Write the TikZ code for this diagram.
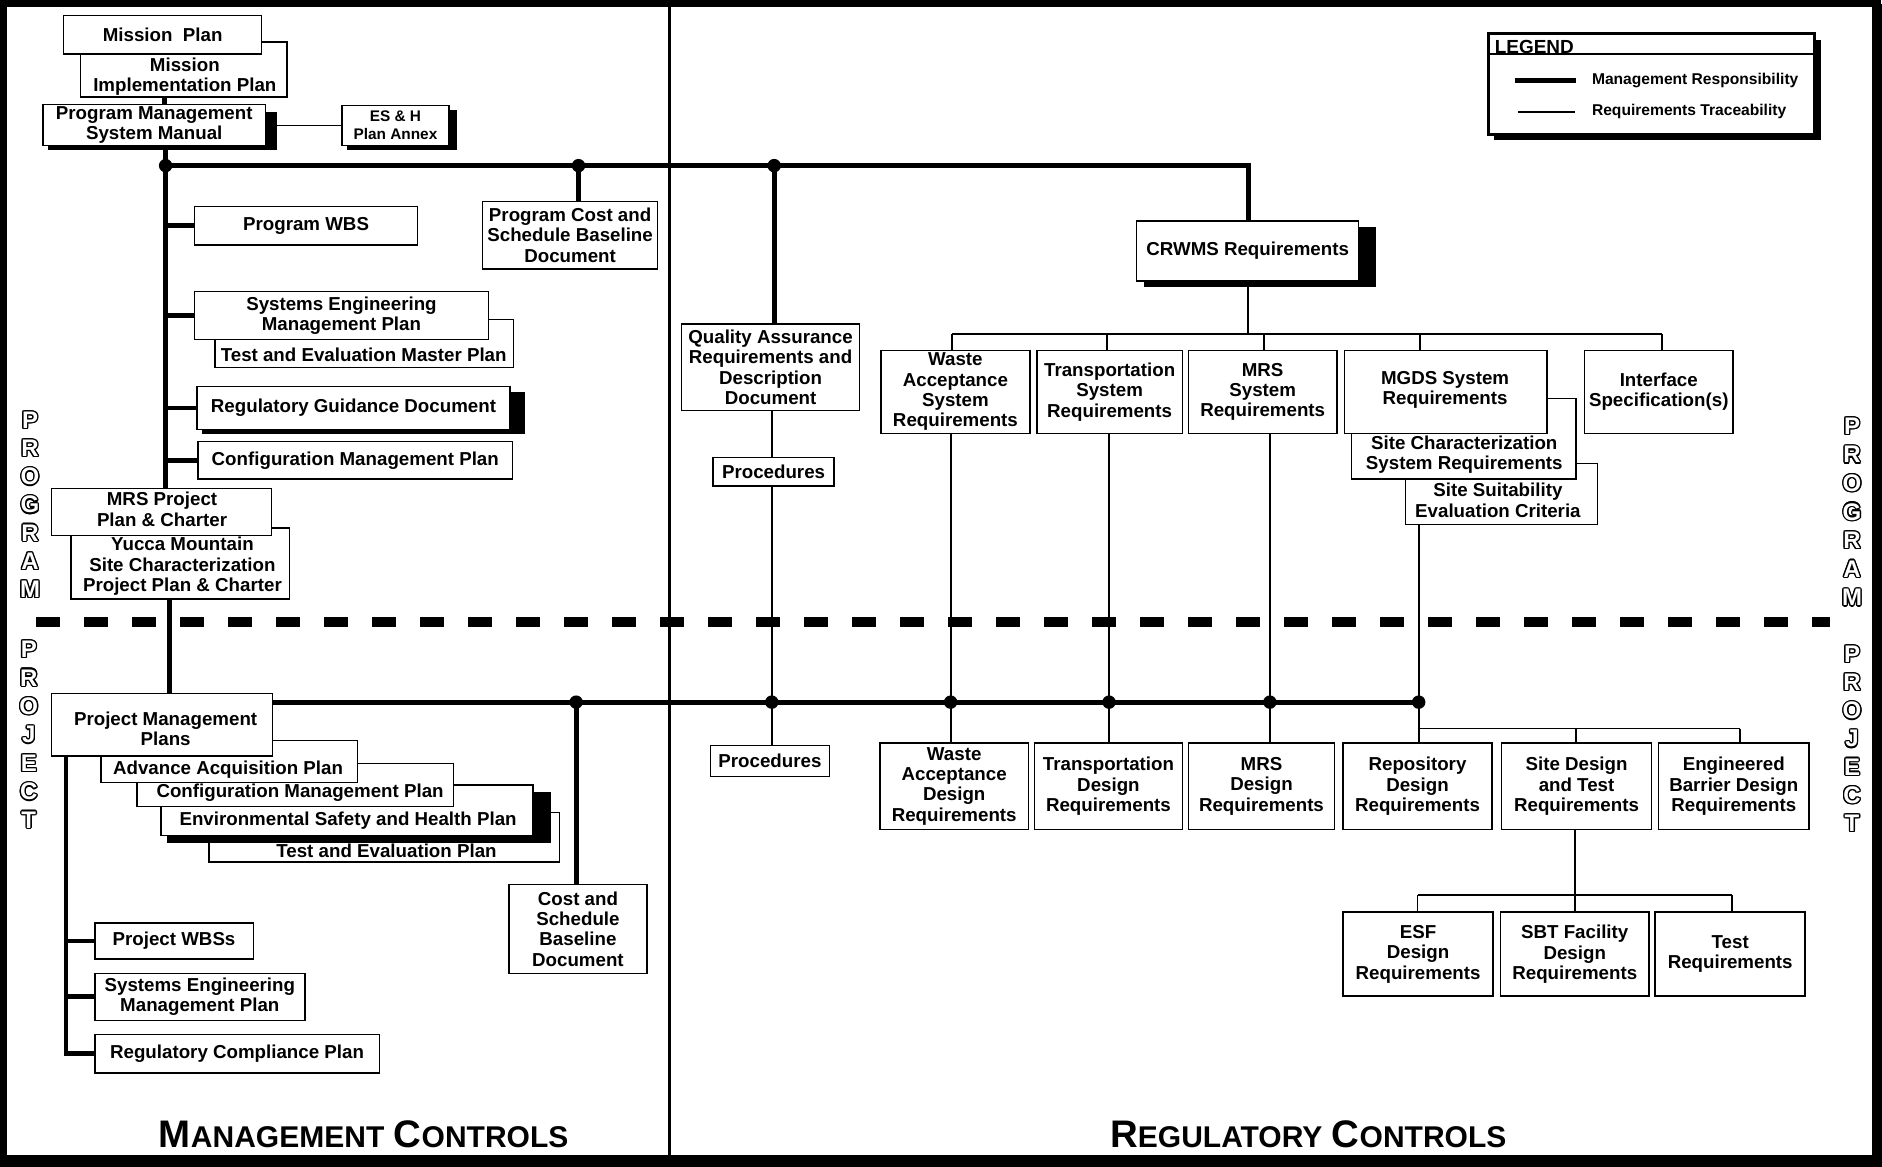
\documentclass[tikz,border=0pt]{standalone}
\usepackage{fontspec}
\setmainfont{Liberation Sans}
\usetikzlibrary{calc}
\pgfdeclarelayer{background}
\pgfsetlayers{background,main}
\tikzset{
  box/.style={draw, fill=white, line width=0.6pt, inner sep=0pt, align=center, font=\bfseries\fontsize{7.8}{8.5}\selectfont},
  txt/.style={inner sep=0pt, align=center, font=\bfseries\fontsize{7.8}{8.5}\selectfont},
  legtxt/.style={inner sep=0pt, anchor=west, font=\bfseries\fontsize{6.5}{7.5}\selectfont},
  mline/.style={line width=2pt},
  rline/.style={line width=0.75pt},
  olt/.style={inner sep=0pt, font=\bfseries\fontsize{10}{10}\selectfont},
  ttl/.style={inner sep=0pt, anchor=base, font=\bfseries},
}
\newcommand\mybox[6][]{\node[box, minimum width={(#5-#3)*0.5pt}, minimum height={(#6-#4)*0.5pt}, #1] (#2) at ({(#3+#5)/2},{(#4+#6)/2})}
\newcommand\olet[4]{%
  \foreach \a in {0,30,...,330}{\node[olt,text=black,shift={(\a:0.55pt)}] (#1o\a) at (#2,{#3}) {#4};}%
  \node[olt,text=white] (#1) at (#2,{#3}) {#4};}
\newcommand\bigs[1]{{\fontsize{16}{16}\selectfont #1}}
\newcommand\smls[1]{{\fontsize{12.5}{12.5}\selectfont #1}}
\begin{document}
\begin{tikzpicture}[x=0.5pt,y=-0.5pt]
\useasboundingbox (0,0) rectangle (1568,972);

% ---------------- coordinates
\coordinate (k) at (137,84);
\coordinate (d0) at (138,138);
\coordinate (d1) at (482,138);
\coordinate (d2) at (645,138);
\coordinate (cr) at (1040,138);
\coordinate (yx) at (141,540);
\coordinate (b1) at (480,585);
\coordinate (b2) at (643,585);
\coordinate (b3) at (792,585);
\coordinate (b4) at (924,585);
\coordinate (b5) at (1058,585);
\coordinate (b6) at (1182,585);
\coordinate (v0) at (55,700);
\coordinate (tb) at (1040,278);
\coordinate (tw) at (793,278);
\coordinate (tt) at (922,278);
\coordinate (tm) at (1053,278);
\coordinate (tg) at (1183,278);
\coordinate (ti) at (1385,278);
\coordinate (lb) at (1182,607);
\coordinate (lb2) at (1313,607);
\coordinate (lb3) at (1450,607);
\coordinate (sb) at (1312,746);
\coordinate (sb1) at (1181,746);
\coordinate (sb3) at (1443,746);

% ---------------- boxes
\mybox{mip}{67}{35}{239}{81}{};
\node[txt] (mipt) at (154,64) {Mission\\Implementation Plan};
\mybox{mp}{53}{13}{218}{45}{Mission\ \ Plan};

\fill (40,93) rectangle (231,125);
\mybox{pmsm}{36}{87}{221}{121}{Program Management\\System Manual};
\fill (289,92) rectangle (381,125);
\mybox[font=\bfseries\fontsize{6.4}{7.5}\selectfont]{esh}{285}{88}{374}{121}{ES \& H\\Plan Annex};

\mybox{pwbs}{162}{172}{348}{204}{Program WBS};
\mybox{pcsb}{402}{168}{548}{224}{Program Cost and\\Schedule Baseline\\Document};

\mybox{temp}{179}{266}{428}{306}{};
\node[txt] (tempt) at (303,295.5) {Test and Evaluation Master Plan};
\mybox{semp}{162}{243}{407}{283}{Systems Engineering\\Management Plan};

\fill (168,327) rectangle (437,362);
\mybox{rgd}{164}{322}{425}{358}{Regulatory Guidance Document};
\mybox{cmp}{165}{368}{427}{399}{Configuration Management Plan};

\mybox{yucca}{59}{440}{241}{499}{};
\node[txt] (yuccat) at (152,472) {Yucca Mountain\\Site Characterization\\Project Plan \& Charter};
\mybox{mrs}{43}{407}{226}{446}{};
\node[txt] (mrst) at (135,424.5) {MRS Project\\Plan \& Charter};

\mybox{tep}{174}{677}{466}{718}{};
\node[txt] (tept) at (322,708.5) {Test and Evaluation Plan};
\fill (139,660) rectangle (459,702);
\mybox{esh2}{134}{654}{444}{696}{};
\node[txt] (esh2t) at (290,683.5) {Environmental Safety and Health Plan};
\mybox{cmp2}{114}{636}{378}{672}{};
\node[txt] (cmp2t) at (250,660.5) {Configuration Management Plan};
\mybox{aap}{84}{617}{298}{652}{};
\node[txt] (aapt) at (190,641.5) {Advance Acquisition Plan};
\mybox{pmp}{43}{578}{227}{630}{};
\node[txt] (pmpt) at (138,607) {Project Management\\Plans};

\mybox{pwbs2}{79}{769}{211}{799}{Project WBSs};
\mybox{semp2}{79}{811}{254}{850}{Systems Engineering\\Management Plan};
\mybox{rcp}{79}{862}{316}{894}{Regulatory Compliance Plan};
\mybox{csbd}{424}{737}{539}{811}{Cost and\\Schedule\\Baseline\\Document};

\mybox{qa}{568}{270}{716}{342}{Quality Assurance\\Requirements and\\Description\\Document};
\mybox{proc1}{594}{381}{695}{405}{Procedures};
\mybox{proc2}{592}{621}{691}{647}{Procedures};

\fill (953,189) rectangle (1146,239);
\mybox{crwms}{947}{184}{1132}{234}{CRWMS Requirements};

\mybox{wasr}{734}{292}{858}{361}{Waste\\Acceptance\\System\\Requirements};
\mybox{tsr}{864}{292}{985}{361}{Transportation\\System\\Requirements};
\mybox{msr}{990}{292}{1114}{361}{MRS\\System\\Requirements};
\mybox{sse}{1171}{386}{1331}{437}{};
\node[txt] (sset) at (1248,417) {Site Suitability\\Evaluation Criteria};
\mybox{scsr}{1126}{332}{1313}{399}{};
\node[txt] (scsrt) at (1220,379) {Site Characterization\\System Requirements};
\mybox{mgds}{1120}{292}{1289}{361}{};
\node[txt] (mgdst) at (1204,325) {MGDS System\\Requirements};
\mybox{isr}{1320}{292}{1444}{361}{Interface\\Specification(s)};

\mybox{wadr}{733}{619}{857}{691}{Waste\\Acceptance\\Design\\Requirements};
\mybox{tdr}{862}{619}{985}{691}{Transportation\\Design\\Requirements};
\mybox{mdr}{990}{619}{1112}{691}{MRS\\Design\\Requirements};
\mybox{rdr}{1119}{619}{1243}{691}{Repository\\Design\\Requirements};
\mybox{sdt}{1251}{619}{1376}{691}{Site Design\\and Test\\Requirements};
\mybox{ebd}{1382}{619}{1507}{691}{Engineered\\Barrier Design\\Requirements};
\mybox{esf}{1119}{760}{1244}{830}{ESF\\Design\\Requirements};
\mybox{sbt}{1250}{760}{1374}{830}{SBT Facility\\Design\\Requirements};
\mybox{treq}{1379}{760}{1504}{830}{Test\\Requirements};

% ---------------- legend
\fill (1245,33) rectangle (1517,117);
\mybox[line width=1.2pt]{leg}{1240}{28}{1512}{112}{};
\draw[line width=1pt] ([yshift=-9pt]leg.north west) -- ([yshift=-9pt]leg.north east);
\node[inner sep=0pt, anchor=west, font=\bfseries\fontsize{7.9}{8}\selectfont] (legt) at (1245,39) {LEGEND};
\coordinate (la1) at (1262,67);
\coordinate (la2) at (1313,67);
\coordinate (lc1) at (1265,93);
\coordinate (lc2) at (1312,93);
\draw[mline] (la1) -- (la2);
\draw[rline] (lc1) -- (lc2);
\node[legtxt] (lmr) at (1326,67) {Management Responsibility};
\node[legtxt] (lrt) at (1326,93) {Requirements Traceability};

% ---------------- side letters
\foreach \L [count=\i] in {P,R,O,G,R,A,M} {\olet{lg\i}{25}{350+23.5*(\i-1)}{\L}}
\foreach \L [count=\i] in {P,R,O,J,E,C,T} {\olet{lj\i}{24}{541+23.7*(\i-1)}{\L}}
\foreach \L [count=\i] in {P,R,O,G,R,A,M} {\olet{rg\i}{1543}{355+23.8*(\i-1)}{\L}}
\foreach \L [count=\i] in {P,R,O,J,E,C,T} {\olet{rj\i}{1543}{545+23.5*(\i-1)}{\L}}

% ---------------- titles
\node[ttl] (mc) at (303,956) {\bigs{M}\smls{ANAGEMENT}\hspace{4pt}\bigs{C}\smls{ONTROLS}};
\node[ttl] (rc) at (1090,956) {\bigs{R}\smls{EGULATORY}\hspace{4pt}\bigs{C}\smls{ONTROLS}};

% ================= background: frame, dividers, connectors
\begin{pgfonlayer}{background}
\fill[white] (0,0) rectangle (1568,972);
\draw[line width=3pt] (3,3) rectangle (1564,966);
\draw[line width=4pt] (1564,3) -- (1564,968);
\draw[line width=5pt] (0,967) -- (1568,967);
\draw[line width=1.4pt] (558,3) -- (558,966);
\draw[line width=4pt, dash pattern=on 10pt off 10pt] (30,518) -- (1525,518);

% management responsibility
\draw[mline] (mip.south -| k) -- (pmsm.north -| k);
\draw[mline] (d0 |- pmsm.south) -- (d0 |- mrs.north);
\draw[mline] (d0) -- (d1) -- (d2) -- (cr) -- (cr |- crwms.north);
\draw[mline] (d1) -- (pcsb.north -| d1);
\draw[mline] (d2) -- (qa.north -| d2);
\draw[mline] (d0 |- pwbs.west) -- (pwbs.west);
\draw[mline] (d0 |- semp.west) -- (semp.west);
\draw[mline] (d0 |- rgd.west) -- (rgd.west);
\draw[mline] (d0 |- cmp.west) -- (cmp.west);
\draw[mline] (yucca.south -| yx) -- (pmp.north -| yx);
\draw[mline] (pmp.east |- b1) -- (b6);
\draw[mline] (b1) -- (csbd.north -| b1);
\draw[mline] (pmp.south -| v0) -- (v0 |- rcp.west) -- (rcp.west);
\draw[mline] (v0 |- pwbs2.west) -- (pwbs2.west);
\draw[mline] (v0 |- semp2.west) -- (semp2.west);

% requirements traceability
\draw[rline] (pmsm.east |- esh.west) -- (esh.west);
\draw[rline] (qa.south -| b2) -- (proc1.north -| b2);
\draw[rline] (proc1.south -| b2) -- (proc2.north -| b2);
\draw[rline] (crwms.south -| tb) -- (tb);
\draw[rline] (tw) -- (ti);
\draw[rline] (tw) -- (wasr.north -| tw);
\draw[rline] (tt) -- (tsr.north -| tt);
\draw[rline] (tm) -- (msr.north -| tm);
\draw[rline] (tg) -- (mgds.north -| tg);
\draw[rline] (ti) -- (isr.north -| ti);
\draw[rline] (wasr.south -| b3) -- (wadr.north -| b3);
\draw[rline] (tsr.south -| b4) -- (tdr.north -| b4);
\draw[rline] (msr.south -| b5) -- (mdr.north -| b5);
\draw[rline] (sse.south -| b6) -- (lb) -- (lb3);
\draw[rline] (lb) -- (rdr.north -| lb);
\draw[rline] (lb2) -- (sdt.north -| lb2);
\draw[rline] (lb3) -- (ebd.north -| lb3);
\draw[rline] (sdt.south -| sb) -- (sb);
\draw[rline] (sb1) -- (sb3);
\draw[rline] (sb1) -- (esf.north -| sb1);
\draw[rline] (sb) -- (sbt.north -| sb);
\draw[rline] (sb3) -- (treq.north -| sb3);

\foreach \p in {d0,d1,d2,b1,b2,b3,b4,b5,b6} \fill (\p) circle[radius=2.8pt];
\end{pgfonlayer}
\end{tikzpicture}
\end{document}
